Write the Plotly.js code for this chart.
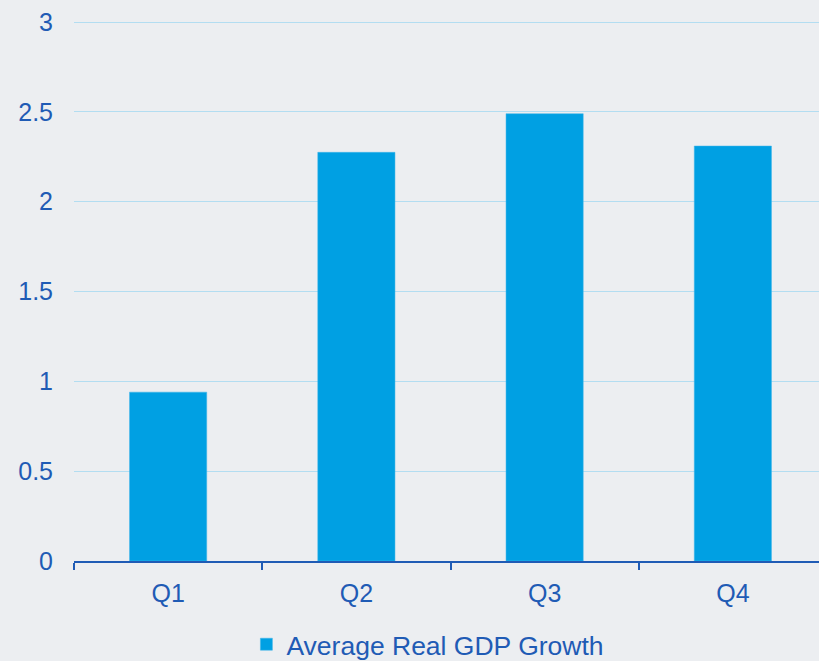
<!DOCTYPE html>
<html>
<head>
<meta charset="utf-8">
<script src="https://cdn.plot.ly/plotly-3.0.1.min.js"></script>
<style>
html,body{margin:0;padding:0;overflow:hidden;background:#ECEEF1;}
#chart{width:830px;height:661px;}
</style>
</head>
<body>
<div id="chart"></div>
<script>
const categories = ["Q1", "Q2", "Q3", "Q4"];
const growth = [0.94, 2.275, 2.49, 2.31];
const seriesName = "Average Real GDP Growth";
const yTicks = [0, 0.5, 1, 1.5, 2, 2.5, 3];
const yTickLabels = ["0", "0.5", "1", "1.5", "2", "2.5", "3"];

const textColor = "#1F5BB5";
const trace = {
  type: "bar",
  x: categories,
  y: growth,
  name: seriesName,
  marker: {color: "#00A0E3", line: {color: "#3FB4E8", width: 0.5}},
  width: 0.41,
  showlegend: true
};
const layout = {
  width: 830,
  height: 661,
  paper_bgcolor: "#ECEEF1",
  plot_bgcolor: "#ECEEF1",
  margin: {l: 74, r: 3, t: 21, b: 100, autoexpand: false},
  font: {family: "Liberation Sans, Arial, sans-serif", size: 25, color: textColor},
  xaxis: {
    type: "category",
    showgrid: false,
    showline: true,
    linecolor: textColor,
    linewidth: 2,
    ticks: "outside",
    tickson: "boundaries",
    ticklen: 7,
    tickwidth: 2,
    tickcolor: textColor,
    ticklabelstandoff: 9,
    tickfont: {size: 25, color: textColor},
    zeroline: false,
    automargin: false
  },
  yaxis: {
    range: [0, 3.006],
    tickvals: yTicks,
    ticktext: yTickLabels,
    showgrid: true,
    gridcolor: "#B3DDF1",
    gridwidth: 1,
    zeroline: false,
    showline: false,
    ticks: "",
    ticklabelstandoff: 20,
    tickfont: {size: 25, color: textColor},
    automargin: false
  },
  legend: {
    orientation: "h",
    x: 0.47,
    xanchor: "center",
    yref: "container",
    y: 0.025,
    yanchor: "middle",
    font: {size: 26.5, color: textColor},
    itemwidth: 30,
    bgcolor: "rgba(0,0,0,0)"
  },
  bargap: 0.59
};
Plotly.newPlot("chart", [trace], layout, {displayModeBar: false, staticPlot: true});
</script>
</body>
</html>
